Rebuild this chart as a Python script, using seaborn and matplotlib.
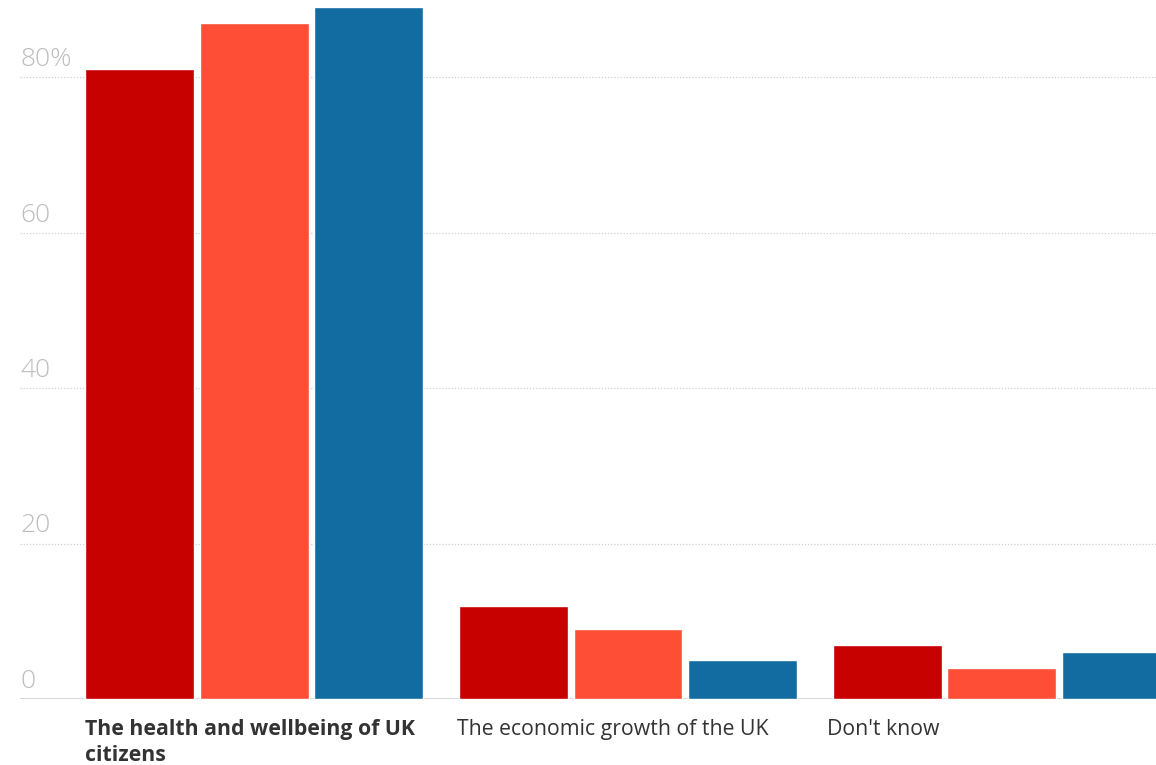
import matplotlib
matplotlib.use("Agg")
import matplotlib.pyplot as plt
import matplotlib.transforms as mtransforms
import pandas as pd
import seaborn as sns

# Survey answers and the three respondent groups
answers = ["The health and wellbeing of UK\ncitizens",
           "The economic growth of the UK",
           "Don't know"]
groups = ["Group 1", "Group 2", "Group 3"]
group1_values = [81, 12, 7]
group2_values = [87, 9, 4]
group3_values = [89, 5, 6]
group_colors = ["#c70000", "#ff4e36", "#126ba1"]

y_ticks = [0, 20, 40, 60, 80]
y_tick_labels = ["0", "20", "40", "60", "80%"]

rows = []
for g, vals in zip(groups, [group1_values, group2_values, group3_values]):
    for a, v in zip(answers, vals):
        rows.append({"answer": a, "group": g, "share": v})
df = pd.DataFrame(rows)

sns.set_theme(style="white")
plt.rcParams["font.family"] = ["Open Sans", "DejaVu Sans"]

fig = plt.figure(figsize=(11.56, 7.65), dpi=100)
ax = fig.add_axes([20 / 1156, 66 / 765, 1136 / 1156, 699.75 / 765])

sns.barplot(data=df, x="answer", y="share", hue="group", order=answers,
            hue_order=groups, palette=group_colors, saturation=1,
            width=0.918, gap=0.048, legend=False, ax=ax, zorder=3)

ax.set_ylim(0, 90)
ax.set_xlim(-0.626, 2.412)
ax.set_yticks(y_ticks)
ax.set_xticks([])
ax.set_yticklabels([])
ax.tick_params(left=False, bottom=False)
ax.set_xlabel("")
ax.set_ylabel("")
for s in ax.spines.values():
    s.set_visible(False)

# Dotted gridlines with a solid baseline
for t in y_ticks:
    if t == 0:
        ax.axhline(t, color="#cfcfcf", lw=1.2, zorder=1)
    else:
        ax.axhline(t, color="#d0d0d0", lw=0.9, ls=(0, (1, 1.5)), zorder=1)

# Tick values sit just above their gridline at the left edge
ytrans = mtransforms.blended_transform_factory(ax.transAxes, ax.transData)
for t, lab in zip(y_ticks, y_tick_labels):
    ax.annotate(lab, xy=(0, t), xycoords=ytrans, xytext=(0, 11),
                textcoords="offset pixels", ha="left", va="baseline",
                fontsize=19, color="#bdbdbd", fontweight="light")

# Category labels, left-aligned under each group of bars
xtrans = mtransforms.blended_transform_factory(ax.transData, ax.transAxes)
label_x = [-0.452, 0.543, 1.533]
for i, a in enumerate(answers):
    ax.annotate(a, xy=(label_x[i], 0), xycoords=xtrans, xytext=(0, -20),
                textcoords="offset pixels", ha="left", va="top",
                fontsize=15.3, color="#333333",
                fontweight="bold" if i == 0 else "normal",
                linespacing=1.3, annotation_clip=False)

fig.savefig("out.png", dpi=100, facecolor="white")
